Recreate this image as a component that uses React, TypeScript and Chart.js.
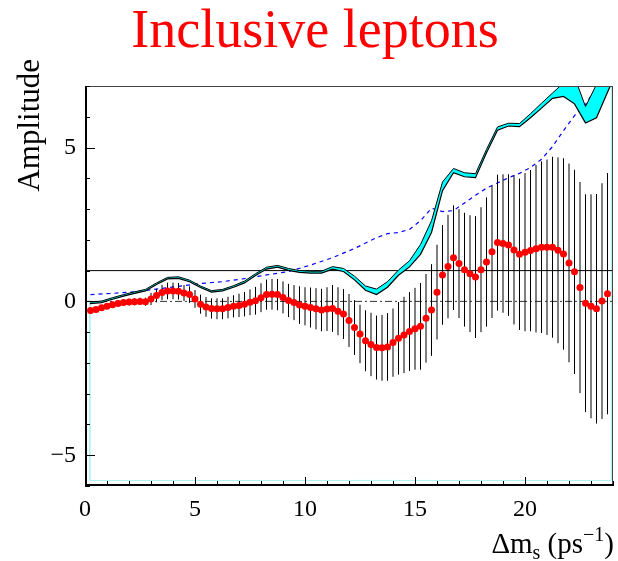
import React, { useEffect, useRef } from "react";
import { Chart, registerables } from "chart.js";
Chart.register(...registerables);

const FONT = '"Liberation Serif", "Times New Roman", Times, serif';

// Δm_s values (ps^-1) of the measured amplitudes
const dmValues = [
  0.25, 0.5, 0.75, 1,
  1.25, 1.5, 1.75, 2,
  2.25, 2.5, 2.75, 3,
  3.25, 3.5, 3.75, 4,
  4.25, 4.5, 4.75, 5,
  5.25, 5.5, 5.75, 6,
  6.25, 6.5, 6.75, 7,
  7.25, 7.5, 7.75, 8,
  8.25, 8.5, 8.75, 9,
  9.25, 9.5, 9.75, 10,
  10.25, 10.5, 10.75, 11,
  11.25, 11.5, 11.75, 12,
  12.25, 12.5, 12.75, 13,
  13.25, 13.5, 13.75, 14,
  14.25, 14.5, 14.75, 15,
  15.25, 15.5, 15.75, 16,
  16.25, 16.5, 16.75, 17,
  17.25, 17.5, 17.75, 18,
  18.25, 18.5, 18.75, 19,
  19.25, 19.5, 19.75, 20,
  20.25, 20.5, 20.75, 21,
  21.25, 21.5, 21.75, 22,
  22.25, 22.5, 22.75, 23,
  23.25, 23.5, 23.75,
];

// measured amplitude A
const amplitude = [
  -0.30, -0.26, -0.21, -0.16,
  -0.11, -0.07, -0.04, -0.02,
  -0.01, 0.0, -0.01, 0.08,
  0.19, 0.29, 0.34, 0.34,
  0.33, 0.27, 0.22, 0.08,
  -0.09, -0.18, -0.23, -0.24,
  -0.24, -0.20, -0.16, -0.13,
  -0.09, -0.03, 0.02, 0.12,
  0.22, 0.23, 0.22, 0.13,
  0.03, -0.04, -0.12, -0.16,
  -0.20, -0.24, -0.28, -0.25,
  -0.23, -0.32, -0.41, -0.62,
  -0.85, -1.06, -1.28, -1.40,
  -1.50, -1.51, -1.48, -1.34,
  -1.20, -1.09, -0.98, -0.89,
  -0.81, -0.55, -0.28, 0.30,
  0.86, 1.13, 1.42, 1.23,
  1.03, 0.90, 0.79, 1.03,
  1.28, 1.61, 1.91, 1.88,
  1.83, 1.67, 1.53, 1.60,
  1.65, 1.71, 1.76, 1.76,
  1.76, 1.66, 1.54, 1.25,
  0.96, 0.45, -0.06, -0.16,
  -0.24, 0.01, 0.25,
];

// uncertainty σ(A)
const sigma = [
  0.08, 0.08, 0.09, 0.09,
  0.10, 0.10, 0.11, 0.11,
  0.12, 0.12, 0.13, 0.20,
  0.22, 0.25, 0.27, 0.27,
  0.27, 0.26, 0.27, 0.29,
  0.31, 0.32, 0.33, 0.34,
  0.34, 0.35, 0.36, 0.38,
  0.40, 0.42, 0.45, 0.47,
  0.49, 0.50, 0.51, 0.52,
  0.54, 0.57, 0.61, 0.62,
  0.65, 0.67, 0.69, 0.71,
  0.76, 0.78, 0.81, 0.86,
  0.89, 0.95, 0.99, 1.03,
  1.04, 1.07, 1.10, 1.11,
  1.18, 1.24, 1.28, 1.33,
  1.41, 1.44, 1.49, 1.54,
  1.62, 1.68, 1.70, 1.77,
  1.85, 1.90, 1.98, 2.03,
  2.10, 2.15, 2.21, 2.25,
  2.30, 2.42, 2.46, 2.57,
  2.62, 2.72, 2.79, 2.85,
  2.94, 3.02, 3.11, 3.23,
  3.32, 3.43, 3.54, 3.64,
  3.73, 3.83, 3.92,
];

// A + 1.645σ band (cyan), lower and upper edges
const bandX = [
  0.22, 0.75, 1.25, 1.75, 2.25, 2.75, 3.25, 3.75, 4.25, 4.75,
  5.25, 5.75, 6.25, 6.75, 7.25, 7.75, 8.25, 8.75, 9.25, 9.75,
  10.25, 10.75, 11.25, 11.75, 12.25, 12.75, 13.25, 13.75, 14.25, 14.75,
  15.25, 15.75, 16.25, 16.75, 17.25, 17.75, 18.25, 18.75, 19.25, 19.75,
  20.25, 20.75, 21.25, 21.75, 22.25, 22.75, 23.25, 23.75, 24.0,
];
const bandLow = [
  -0.07, -0.04, 0.07, 0.17, 0.26, 0.34, 0.55, 0.73, 0.75, 0.64,
  0.45, 0.30, 0.34, 0.46, 0.60, 0.84, 1.05, 1.11, 1.01, 0.94,
  0.92, 0.92, 1.05, 0.97, 0.70, 0.36, 0.22, 0.46, 0.85, 1.12,
  1.53, 2.24, 3.60, 4.18, 4.05, 4.02, 4.83, 5.56, 5.70, 5.68,
  5.97, 6.28, 6.60, 6.66, 6.42, 5.80, 5.97, 6.80, 7.2,
];
const bandHigh = [
  -0.02, 0.01, 0.12, 0.22, 0.31, 0.39, 0.60, 0.78, 0.80, 0.69,
  0.50, 0.35, 0.39, 0.51, 0.66, 0.90, 1.11, 1.17, 1.07, 1.00,
  0.98, 0.98, 1.13, 1.07, 0.82, 0.50, 0.40, 0.64, 1.02, 1.32,
  1.85, 2.62, 3.88, 4.32, 4.18, 4.15, 4.94, 5.67, 5.79, 5.78,
  6.10, 6.44, 6.77, 7.10, 7.30, 6.33, 7.05, 7.60, 7.90,
];

// sensitivity 1.645σ (dashed blue)
const sensX = [
  0.25, 1.25, 2.25, 3.25, 4.25, 5.25, 6.25, 7.25, 8.25, 9.25,
  10.25, 11.25, 12.25, 13.25, 13.75, 14.25, 14.75, 15.25, 15.75, 16.25,
  16.75, 17.25, 17.75, 18.25, 18.75, 19.25, 19.75, 20.25, 20.75, 21.25,
  21.75, 22.25, 22.75, 23.25, 23.75,
];
const sensY = [
  0.22, 0.26, 0.31, 0.40, 0.49, 0.58, 0.64, 0.74, 0.86, 0.97,
  1.18, 1.42, 1.72, 2.07, 2.20, 2.24, 2.34, 2.62, 3.03, 2.92,
  2.95, 3.20, 3.45, 3.68, 3.85, 4.02, 4.16, 4.35, 4.62, 5.03,
  5.55, 6.04, 6.40, 6.97, 7.60,
];

// thin cyan outline of the band region
const outlineX = [0.22, 0.22, 23.93, 23.93];
const outlineY = [-0.07, -5.82, -5.82, 7.5];

// reference lines
const unitLineX = [0, 24];
const unitLineY = [1, 1];
const zeroLineX = [0, 24];
const zeroLineY = [0, 0];

const xTickLabels = [0, 5, 10, 15, 20];
const yTickLabels = [-5, 0, 5];
const xRange = [0, 24];
const yRange = [-6, 7];

const pts = (xs: number[], ys: number[]) => xs.map((x, i) => ({ x, y: ys[i] }));

const rootFramePlugin = {
  id: "rootFrame",
  afterDatasetsDraw(chart: any) {
    const { ctx, chartArea: a, scales } = chart;
    ctx.save();
    ctx.lineWidth = 1;
    ctx.strokeStyle = "#444";
    ctx.beginPath();
    ctx.moveTo(a.left, a.top + 0.5);
    ctx.lineTo(a.right, a.top + 0.5);
    ctx.moveTo(a.right - 0.5, a.top);
    ctx.lineTo(a.right - 0.5, a.bottom);
    ctx.stroke();
    ctx.strokeStyle = "#000";
    ctx.lineWidth = 2;
    ctx.beginPath();
    ctx.moveTo(a.left + 1, a.top);
    ctx.lineTo(a.left + 1, a.bottom - 1);
    ctx.lineTo(a.right, a.bottom - 1);
    ctx.stroke();
    ctx.lineWidth = 1;
    ctx.beginPath();
    for (let v = xRange[0]; v <= xRange[1]; v += 1) {
      const px = Math.round(scales.x.getPixelForValue(v)) + 0.5;
      const len = v % 5 === 0 ? 9 : 5;
      ctx.moveTo(px, a.bottom);
      ctx.lineTo(px, a.bottom - len);
    }
    for (let v = yRange[0]; v <= yRange[1]; v += 1) {
      const py = Math.round(scales.y.getPixelForValue(v)) + 0.5;
      const len = v % 5 === 0 ? 10 : 5;
      ctx.moveTo(a.left, py);
      ctx.lineTo(a.left + len, py);
    }
    ctx.stroke();
    ctx.restore();
  },
  afterDraw(chart: any) {
    const { ctx, chartArea: a } = chart;
    ctx.save();
    // title
    ctx.fillStyle = "#ff0000";
    ctx.font = `54px ${FONT}`;
    ctx.textAlign = "center";
    ctx.textBaseline = "alphabetic";
    ctx.fillText("Inclusive leptons", 315, 47);
    // y title
    ctx.fillStyle = "#000";
    ctx.font = `31px ${FONT}`;
    ctx.save();
    ctx.translate(39, 59);
    ctx.rotate(-Math.PI / 2);
    ctx.textAlign = "right";
    ctx.fillText("Amplitude", 0, 0);
    ctx.restore();
    // x title: Δm_s (ps^-1)
    const big = `29px ${FONT}`;
    const small = `20px ${FONT}`;
    const parts: [string, string, number][] = [
      ["Δm", big, 0],
      ["s", small, 6],
      [" (ps", big, 0],
      ["\u22121", small, -12],
      [")", big, 0],
    ];
    let total = 0;
    const widths = parts.map(([t, f]) => {
      ctx.font = f;
      const w = ctx.measureText(t).width;
      total += w;
      return w;
    });
    let x = a.right - total + 1;
    const base = 553;
    ctx.textAlign = "left";
    parts.forEach(([t, f, dy], i) => {
      ctx.font = f;
      ctx.fillText(t, x, base + dy);
      x += widths[i];
    });
    ctx.restore();
  },
};

export default function App() {
  const canvasRef = useRef<HTMLCanvasElement | null>(null);

  useEffect(() => {
    const canvas = canvasRef.current;
    if (!canvas) return;

    const errorBars: { x: number; y: number | null }[] = [];
    dmValues.forEach((x, i) => {
      errorBars.push({ x, y: amplitude[i] - sigma[i] });
      errorBars.push({ x, y: amplitude[i] + sigma[i] });
      errorBars.push({ x, y: null });
    });

    const chart = new Chart(canvas, {
      type: "line",
      data: {
        datasets: [
          {
            label: "A",
            type: "scatter",
            data: pts(dmValues, amplitude),
            backgroundColor: "#ff0000",
            borderWidth: 0,
            pointRadius: 3.5,
            pointBorderWidth: 0,
            showLine: false,
            order: 0,
          } as any,
          {
            label: "errors",
            data: errorBars,
            borderColor: "#000",
            borderWidth: 1,
            pointRadius: 0,
            spanGaps: false,
            fill: false,
            order: 1,
          },
          {
            label: "band high",
            data: pts(bandX, bandHigh),
            borderColor: "#000",
            borderWidth: 1,
            backgroundColor: "#00ffff",
            pointRadius: 0,
            fill: "+1",
            tension: 0,
            order: 3,
          },
          {
            label: "band low",
            data: pts(bandX, bandLow),
            borderColor: "#000",
            borderWidth: 1.2,
            pointRadius: 0,
            fill: false,
            tension: 0,
            order: 2,
          },
          {
            label: "sensitivity",
            data: pts(sensX, sensY),
            borderColor: "#0000ff",
            borderWidth: 1.2,
            borderDash: [4, 4],
            pointRadius: 0,
            fill: false,
            order: 4,
          },
          {
            label: "A=1",
            data: pts(unitLineX, unitLineY),
            borderColor: "#000",
            borderWidth: 1,
            pointRadius: 0,
            fill: false,
            order: 5,
          },
          {
            label: "A=0",
            data: pts(zeroLineX, zeroLineY),
            borderColor: "#333",
            borderWidth: 1,
            borderDash: [7, 3, 2, 3],
            pointRadius: 0,
            fill: false,
            order: 6,
          },
          {
            label: "outline",
            data: pts(outlineX, outlineY),
            borderColor: "#a8f4f4",
            borderWidth: 1,
            pointRadius: 0,
            fill: false,
            order: 7,
          },
        ],
      },
      options: {
        animation: false,
        responsive: false,
        devicePixelRatio: 1,
        layout: { padding: { top: 86, right: 5, bottom: 35, left: 0 } },
        plugins: {
          legend: { display: false },
          tooltip: { enabled: false },
          title: { display: false },
        },
        scales: {
          x: {
            type: "linear",
            min: xRange[0],
            max: xRange[1],
            grid: { display: false, drawTicks: false },
            border: { display: false },
            afterBuildTicks: (s: any) => {
              s.ticks = xTickLabels.map((v) => ({ value: v }));
            },
            afterFit: (s: any) => {
              s.height = 40;
            },
            ticks: {
              color: "#000",
              font: { family: FONT, size: 24 },
              padding: 9,
              maxRotation: 0,
              autoSkip: false,
              callback: (v: any) => String(v),
            },
          },
          y: {
            type: "linear",
            min: yRange[0],
            max: yRange[1],
            grid: { display: false, drawTicks: false },
            border: { display: false },
            afterBuildTicks: (s: any) => {
              s.ticks = yTickLabels.map((v) => ({ value: v }));
            },
            afterFit: (s: any) => {
              s.width = 85;
            },
            ticks: {
              color: "#000",
              font: { family: FONT, size: 24 },
              padding: 9,
              autoSkip: false,
              callback: (v: any) => (Number(v) < 0 ? "\u2212" + Math.abs(Number(v)) : String(v)),
            },
          },
        },
      },
      plugins: [rootFramePlugin],
    });

    return () => chart.destroy();
  }, []);

  return (
    <div
      style={{
        position: "absolute",
        left: 0,
        top: 0,
        width: 618,
        height: 561,
        background: "#fff",
      }}
    >
      <canvas ref={canvasRef} width={618} height={561} />
    </div>
  );
}
